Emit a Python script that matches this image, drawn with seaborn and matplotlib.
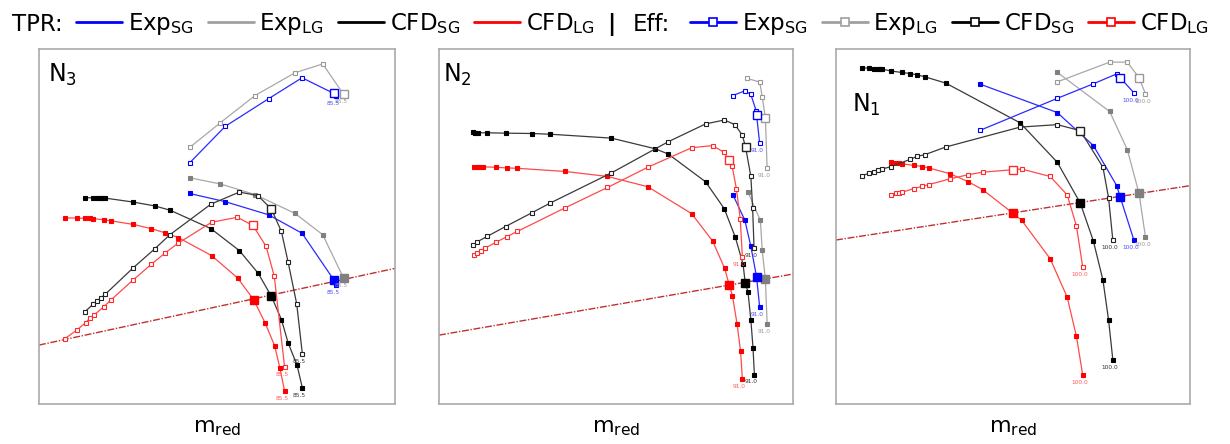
import pandas as pd
import seaborn as sns
import matplotlib.pyplot as plt
from matplotlib.lines import Line2D

# speed lines: (reduced mass flow, value) in relative units 0..100
# ---- N3 (85.5 %) ----
N3_TPR_EXP_SG = [(42.3, 59.3), (52.3, 57.0), (64.5, 53.3), (73.9, 48.1), (82.8, 35.0), (83.4, 33.5)]
N3_TPR_EXP_LG = [(42.5, 63.7), (50.9, 62.0), (60.7, 59.0), (71.9, 53.7), (79.7, 47.7), (85.6, 35.4)]
N3_TPR_CFD_SG = [(12.9, 58.1), (15.2, 58.1), (16.4, 58.0), (17.1, 58.0), (17.8, 58.0), (18.6, 58.0),
                 (26.4, 56.9), (32.5, 55.8), (36.8, 54.6), (48.3, 49.4), (56.3, 43.2), (61.6, 36.8),
                 (65.3, 30.3), (68.1, 23.8), (70.0, 17.2), (72.5, 10.9), (74.0, 4.5)]
N3_TPR_CFD_LG = [(7.3, 52.4), (10.7, 52.4), (12.9, 52.3), (14.2, 52.3), (15.2, 52.2), (18.2, 51.9),
                 (20.2, 51.6), (26.4, 50.6), (31.5, 49.4), (35.5, 48.2), (39.1, 46.9), (48.5, 41.8),
                 (55.8, 35.5), (60.3, 29.4), (63.5, 22.9), (66.2, 16.4), (67.7, 10.0), (69.0, 3.6)]
N3_EFF_EXP_SG = [(42.3, 67.9), (52.3, 78.2), (64.5, 86.0), (73.9, 91.9), (82.8, 87.5), (83.4, 86.8)]
N3_EFF_EXP_LG = [(42.5, 72.4), (50.9, 79.2), (60.7, 86.9), (71.9, 93.3), (79.7, 95.8), (85.6, 87.2)]
N3_EFF_CFD_SG = [(12.9, 26.0), (15.2, 28.1), (16.4, 29.1), (17.5, 30.0), (18.6, 30.9), (26.4, 38.3),
                 (32.5, 43.7), (36.8, 47.7), (48.3, 56.3), (56.3, 59.7), (61.5, 58.7), (65.3, 54.9),
                 (68.1, 48.6), (70.0, 39.9), (72.4, 28.2), (74.0, 14.0)]
N3_EFF_CFD_LG = [(7.3, 18.4), (10.7, 20.9), (13.1, 22.9), (14.2, 24.1), (15.4, 25.0), (18.2, 27.4),
                 (20.2, 29.3), (26.4, 34.9), (31.5, 39.3), (35.5, 42.6), (39.1, 45.3), (48.5, 51.2),
                 (55.7, 52.6), (60.1, 50.3), (63.8, 44.4), (66.1, 36.0), (69.0, 10.4)]
N3_THROTTLE = [(0, 16.6), (100, 38.2)]

# ---- N2 (91.0 %) ----
N2_TPR_EXP_SG = [(83.0, 59.0), (86.4, 51.8), (88.1, 44.4), (89.7, 35.9), (90.6, 27.2)]
N2_TPR_EXP_LG = [(87.3, 59.7), (90.8, 51.7), (91.3, 43.4), (92.2, 35.2), (92.7, 22.6)]
N2_TPR_CFD_SG = [(9.5, 76.5), (10.2, 76.4), (10.9, 76.4), (13.6, 76.4), (18.8, 76.3), (26.3, 76.2),
                 (31.4, 76.0), (48.7, 74.9), (61.1, 71.9), (64.8, 70.4), (75.3, 62.6), (80.6, 55.0),
                 (83.7, 47.0), (85.9, 39.4), (86.5, 34.2), (87.3, 31.5), (88.1, 23.7), (88.7, 15.9),
                 (89.1, 8.3)]
N2_TPR_CFD_LG = [(10.0, 66.9), (10.6, 66.9), (11.6, 66.8), (12.5, 66.8), (16.0, 66.7), (19.1, 66.5),
                 (22.1, 66.4), (35.7, 65.5), (47.6, 64.1), (59.0, 61.2), (71.4, 53.6), (77.3, 45.9),
                 (80.7, 38.2), (82.0, 33.5), (82.9, 30.5), (84.2, 22.6), (85.2, 14.8), (85.7, 7.0)]
N2_EFF_EXP_SG = [(83.0, 86.9), (86.4, 88.2), (88.1, 87.2), (89.6, 82.6), (89.7, 81.5), (90.6, 73.4)]
N2_EFF_EXP_LG = [(87.1, 91.7), (90.6, 90.7), (91.3, 86.6), (92.2, 80.7), (92.7, 66.4)]
N2_EFF_CFD_SG = [(9.7, 44.8), (10.8, 45.7), (13.6, 47.2), (18.8, 50.0), (26.3, 53.9), (31.4, 56.6),
                 (48.7, 65.1), (64.8, 73.9), (75.3, 78.9), (80.6, 80.0), (83.6, 78.7), (85.7, 75.7),
                 (86.6, 72.4), (88.1, 64.1), (88.6, 55.2), (89.0, 43.9)]
N2_EFF_CFD_LG = [(10.0, 42.0), (10.6, 42.5), (11.9, 43.2), (13.0, 43.9), (16.0, 45.5), (19.1, 47.1),
                 (22.1, 48.6), (35.7, 55.3), (47.6, 61.0), (59.0, 66.7), (71.4, 72.2), (77.3, 72.8),
                 (80.5, 70.9), (81.9, 68.8), (82.8, 67.1), (84.0, 60.7), (85.1, 52.2), (85.7, 41.5)]
N2_THROTTLE = [(0, 19.4), (100, 36.6)]

# ---- N1 (100.0 %) ----
N1_TPR_EXP_SG = [(40.7, 90.1), (62.5, 82.1), (72.7, 72.8), (79.3, 61.5), (80.3, 58.2), (84.1, 46.3)]
N1_TPR_EXP_LG = [(62.4, 93.5), (77.3, 82.4), (82.3, 71.6), (85.6, 59.3), (87.4, 47.1)]
N1_TPR_CFD_SG = [(7.2, 94.7), (9.4, 94.6), (10.8, 94.5), (11.8, 94.4), (12.3, 94.3), (13.1, 94.3),
                 (15.6, 93.8), (18.5, 93.4), (20.9, 93.1), (23.0, 92.7), (25.0, 92.2), (31.0, 90.4),
                 (52.0, 79.2), (62.5, 68.1), (69.0, 56.6), (72.7, 45.9), (75.4, 34.9), (77.0, 23.6),
                 (78.2, 12.4)]
N1_TPR_CFD_LG = [(15.6, 68.1), (17.0, 67.9), (17.8, 67.8), (18.5, 67.7), (22.0, 67.2), (24.4, 66.9),
                 (26.2, 66.5), (32.1, 64.9), (37.4, 62.6), (41.4, 60.4), (50.0, 53.7), (52.4, 51.8),
                 (60.5, 40.9), (65.3, 30.1), (67.9, 19.1), (69.7, 8.1)]
N1_EFF_EXP_SG = [(40.7, 77.1), (62.5, 86.1), (72.7, 90.2), (79.3, 93.0), (80.3, 91.9), (84.1, 87.7)]
N1_EFF_EXP_LG = [(62.4, 90.7), (77.3, 96.3), (82.3, 96.3), (85.6, 91.9), (87.4, 87.4)]
N1_EFF_CFD_SG = [(7.2, 64.3), (9.4, 65.0), (10.8, 65.4), (11.9, 65.8), (13.1, 66.2), (15.6, 66.9),
                 (20.9, 68.9), (23.0, 69.8), (25.0, 70.2), (31.0, 72.4), (52.0, 78.0), (62.5, 78.7),
                 (69.0, 77.0), (75.4, 66.7), (77.0, 58.0), (78.2, 46.1)]
N1_EFF_CFD_LG = [(15.6, 58.9), (17.0, 59.3), (17.8, 59.5), (18.5, 59.6), (22.0, 60.7), (24.4, 61.3),
                 (26.2, 61.8), (32.1, 63.4), (37.4, 64.6), (41.4, 65.3), (50.0, 66.0), (52.4, 66.2),
                 (60.5, 64.1), (65.3, 58.9), (67.9, 50.2), (69.7, 38.5)]
N1_THROTTLE = [(0, 46.2), (100, 61.5)]

# index of the operating point (on the throttle line) in each speed line
N3_OP = {"TPR_EXP_SG": 4, "TPR_EXP_LG": 5, "TPR_CFD_SG": 12, "TPR_CFD_LG": 13,
         "EFF_EXP_SG": 4, "EFF_EXP_LG": 5, "EFF_CFD_SG": 11, "EFF_CFD_LG": 13}
N2_OP = {"TPR_EXP_SG": 3, "TPR_EXP_LG": 3, "TPR_CFD_SG": 14, "TPR_CFD_LG": 13,
         "EFF_EXP_SG": 4, "EFF_EXP_LG": 3, "EFF_CFD_SG": 12, "EFF_CFD_LG": 13}
N1_OP = {"TPR_EXP_SG": 4, "TPR_EXP_LG": 3, "TPR_CFD_SG": 14, "TPR_CFD_LG": 10,
         "EFF_EXP_SG": 4, "EFF_EXP_LG": 3, "EFF_CFD_SG": 12, "EFF_CFD_LG": 10}

SOURCES = ["EXP_SG", "EXP_LG", "CFD_SG", "CFD_LG"]
SOURCE_LABELS = ["Exp$_{SG}$", "Exp$_{LG}$", "CFD$_{SG}$", "CFD$_{LG}$"]
PANELS = [("N$_3$", "85.5", N3_OP, "N3"),
          ("N$_2$", "91.0", N2_OP, "N2"),
          ("N$_1$", "100.0", N1_OP, "N1")]
DATA = globals()

MARK_COLOR = {"EXP_SG": "#0000ff", "EXP_LG": "#808080", "CFD_SG": "#000000", "CFD_LG": "#ff0000"}
LINE_COLOR = {"EXP_SG": "#2a2aff", "EXP_LG": "#a8a8a8", "CFD_SG": "#3a3a3a", "CFD_LG": "#ff4a4a"}
HOLLOW_EDGE = {"EXP_SG": "#0000ff", "EXP_LG": "#999999", "CFD_SG": "#222222", "CFD_LG": "#ff2a2a"}
TEXT_COLOR = {"EXP_SG": "#4d4dff", "EXP_LG": "#9a9a9a", "CFD_SG": "#333333", "CFD_LG": "#ff5a5a"}

sns.set_theme(style="white")
plt.rcParams["font.family"] = ["DejaVu Sans"]
plt.rcParams["mathtext.default"] = "regular"
plt.rcParams["text.color"] = "black"
plt.rcParams["axes.labelcolor"] = "black"

fig = plt.figure(figsize=(12.3, 4.44), dpi=100)
axes_rects = [[0.0317, 0.0901, 0.2894, 0.7995],
              [0.3569, 0.0901, 0.2878, 0.7995],
              [0.6797, 0.0901, 0.2878, 0.7995]]
title_pos = [(0.025, 0.965), (0.01, 0.965), (0.045, 0.88)]


def draw_line(ax, pts, op, src, filled, speed):
    df = pd.DataFrame(pts, columns=["m", "v"])
    mc = MARK_COLOR[src] if filled else HOLLOW_EDGE[src]
    sns.lineplot(data=df, x="m", y="v", ax=ax, sort=False, estimator=None,
                 color=LINE_COLOR[src], lw=0.9, marker="s", markersize=3.2,
                 mec=mc, mfc=mc if filled else "white", mew=0.8)
    sns.lineplot(x=[df.m[op]], y=[df.v[op]], ax=ax, estimator=None,
                 color=LINE_COLOR[src], marker="s", markersize=5.5,
                 mec=mc, mfc=mc if filled else "white", mew=1.0)
    ax.annotate(speed, (df.m.iloc[-1], df.v.iloc[-1]), xytext=(-2, -3.5),
                textcoords="offset points", ha="center", va="top",
                fontsize=4.2, color=TEXT_COLOR[src])


for i, (title, speed, ops, key) in enumerate(PANELS):
    ax = fig.add_axes(axes_rects[i])
    thr = pd.DataFrame(DATA[key + "_THROTTLE"], columns=["m", "v"])
    sns.lineplot(data=thr, x="m", y="v", ax=ax, color="#c03030", lw=1.0,
                 linestyle=(0, (5, 1.2, 1, 1.2)), estimator=None)
    for kind in ["TPR", "EFF"]:
        for src in ["CFD_SG", "CFD_LG", "EXP_LG", "EXP_SG"]:
            name = kind + "_" + src
            draw_line(ax, DATA[key + "_" + name], ops[name], src, kind == "TPR", speed)
    ax.set_xlim(0, 100)
    ax.set_ylim(0, 100)
    ax.set_xticks([])
    ax.set_yticks([])
    ax.set_ylabel("")
    ax.set_xlabel("m$_{red}$", fontsize=16, labelpad=10)
    for sp in ax.spines.values():
        sp.set_color("#aaaaaa")
        sp.set_linewidth(1.2)
    ax.text(title_pos[i][0], title_pos[i][1], title, transform=ax.transAxes,
            fontsize=17, ha="left", va="top")

# legend across the top
fs = 16.5
ly = 0.945
fig.text(12 / 1230, ly, "TPR:", fontsize=fs, va="center", ha="left")
tpr_handles = [Line2D([], [], color=MARK_COLOR[s] if s != "EXP_LG" else "#a0a0a0", lw=2)
               for s in SOURCES]
fig.legend(tpr_handles, SOURCE_LABELS, loc="center left", bbox_to_anchor=(76 / 1230, ly),
           ncol=4, frameon=False, fontsize=fs, handlelength=2.0, handletextpad=0.25,
           columnspacing=0.62, borderpad=0, borderaxespad=0)
fig.text(607 / 1230, ly, "|", fontsize=fs, fontweight="bold", va="center", ha="left")
fig.text(633 / 1230, ly, "Eff:", fontsize=fs, va="center", ha="left")
eff_handles = [Line2D([], [], color=MARK_COLOR[s] if s != "EXP_LG" else "#a0a0a0", lw=2,
                      marker="s", markersize=6, mfc="white",
                      mec=MARK_COLOR[s] if s != "EXP_LG" else "#a0a0a0", mew=1.2)
               for s in SOURCES]
fig.legend(eff_handles, SOURCE_LABELS, loc="center left", bbox_to_anchor=(690 / 1230, ly),
           ncol=4, frameon=False, fontsize=fs, handlelength=2.0, handletextpad=0.25,
           columnspacing=0.62, borderpad=0, borderaxespad=0)

plt.savefig("out.png", dpi=100)
